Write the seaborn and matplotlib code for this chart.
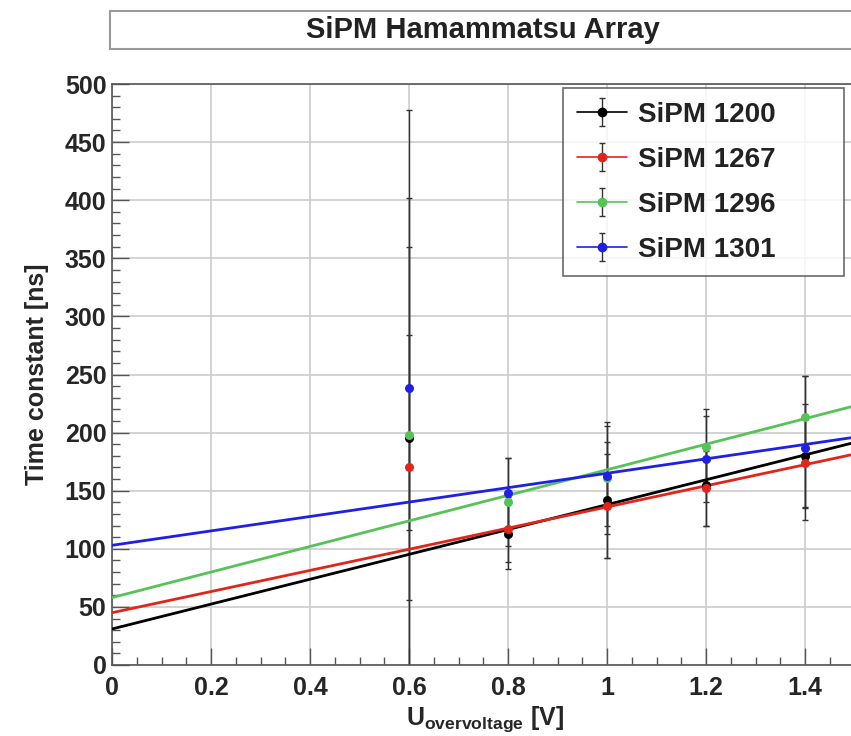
import matplotlib
matplotlib.use('Agg')
import matplotlib.pyplot as plt
from matplotlib.lines import Line2D
from matplotlib.patches import Rectangle
from matplotlib.ticker import MultipleLocator, FuncFormatter
import seaborn as sns
import numpy as np
import pandas as pd

sns.set_theme(style='ticks')
plt.rcParams['font.family'] = ['Liberation Sans', 'DejaVu Sans']
plt.rcParams['font.weight'] = 'bold'
plt.rcParams['mathtext.fontset'] = 'custom'
plt.rcParams['mathtext.rm'] = 'Liberation Sans:bold'
plt.rcParams['mathtext.bf'] = 'Liberation Sans:bold'

# data
voltage = [0.6, 0.8, 1.0, 1.2, 1.4]
names = ['SiPM 1200', 'SiPM 1267', 'SiPM 1296', 'SiPM 1301']
colors = ['#000000', '#e3241b', '#57c257', '#1f1fe6']

tau_1200 = [195, 113, 142, 155, 180]
tau_1267 = [170, 117, 137, 152, 174]
tau_1296 = [198, 140, 161, 188, 213]
tau_1301 = [238, 148, 163, 177, 187]

err_1200 = [283, 30, 50, 35, 45]
err_1267 = [114, 28, 45, 32, 38]
err_1296 = [204, 38, 48, 32, 36]
err_1301 = [122, 30, 43, 37, 62]

# linear fit parameters (offset, slope)
fit_offset = [31, 45, 58, 103]
fit_slope = [107, 91, 110, 62]

taus = [tau_1200, tau_1267, tau_1296, tau_1301]
errs = [err_1200, err_1267, err_1296, err_1301]

fig = plt.figure(figsize=(8.51, 7.36), dpi=100)
fig.patch.set_facecolor('white')
ax = fig.add_axes([112 / 851, 71 / 736, 792 / 851, 581 / 736])
ax.set_facecolor('white')

x_fit = np.linspace(0, 1.6, 50)
handles = []
for i in range(4):
    fit_df = pd.DataFrame({'U': x_fit, 'tau': fit_offset[i] + fit_slope[i] * x_fit})
    sns.lineplot(data=fit_df, x='U', y='tau', color=colors[i], lw=2, ax=ax, zorder=3)
    eb = ax.errorbar(voltage, taus[i], yerr=errs[i], fmt='none', ecolor='#333333',
                     elinewidth=1, capsize=2, capthick=1, zorder=2)
    pts = pd.DataFrame({'U': voltage, 'tau': taus[i]})
    sns.scatterplot(data=pts, x='U', y='tau', color=colors[i], s=42,
                    edgecolor=colors[i], linewidth=0, ax=ax, zorder=4)
    handles.append((Line2D([], [], color=colors[i], lw=1.2), eb,
                    Line2D([], [], color=colors[i], marker='o', ls='none', ms=6)))

ax.set_xlim(0, 1.6)
ax.set_ylim(0, 500)
ax.xaxis.set_major_locator(MultipleLocator(0.2))
ax.xaxis.set_minor_locator(MultipleLocator(0.05))
ax.xaxis.set_major_formatter(FuncFormatter(lambda v, p: '%g' % round(v, 2) if v < 1.5 else ''))
ax.yaxis.set_major_locator(MultipleLocator(50))
ax.yaxis.set_minor_locator(MultipleLocator(10))
ax.tick_params(axis='both', which='both', direction='in', labelsize=18, color='#555555')
ax.tick_params(which='major', length=12, width=1)
ax.tick_params(which='minor', length=6, width=1)
ax.tick_params(axis='x', pad=8)
ax.tick_params(axis='y', pad=4)
ax.grid(True, which='major', color='#cccccc', lw=1.2)
for s in ax.spines.values():
    s.set_color('#555555')
    s.set_linewidth(1.2)

ax.set_xlabel(r'$\mathrm{U}_{\mathrm{overvoltage}}$ [V]', fontsize=18, fontweight='bold')
ax.xaxis.set_label_coords((485 - 112) / 792, -0.068)
ax.set_ylabel('Time constant [ns]', fontsize=18, fontweight='bold')
ax.yaxis.set_label_coords(-0.08, 0.5)

leg = ax.legend(handles, names, loc='upper left',
                bbox_to_anchor=(563 / 851, 1 - 272 / 736, 281 / 851, 184 / 736),
                bbox_transform=fig.transFigure, mode='expand', borderaxespad=0,
                fontsize=20, frameon=True, fancybox=False, handlelength=1.8,
                handletextpad=0.4, labelspacing=0.68, borderpad=0.5)
leg.get_frame().set_edgecolor('#444444')
leg.get_frame().set_linewidth(1.2)
for t in leg.get_texts():
    t.set_fontweight('bold')
    t.set_color('#222222')

# title box
fig.patches.append(Rectangle((110 / 851, 1 - 49 / 736), 746 / 851, 38 / 736,
                             transform=fig.transFigure, facecolor='white',
                             edgecolor='#999999', lw=1.5))
fig.text(483 / 851, 1 - 30 / 736, 'SiPM Hamammatsu Array', ha='center', va='center',
         fontsize=21, fontweight='bold', color='#222222')

fig.savefig('out.png', dpi=100)
